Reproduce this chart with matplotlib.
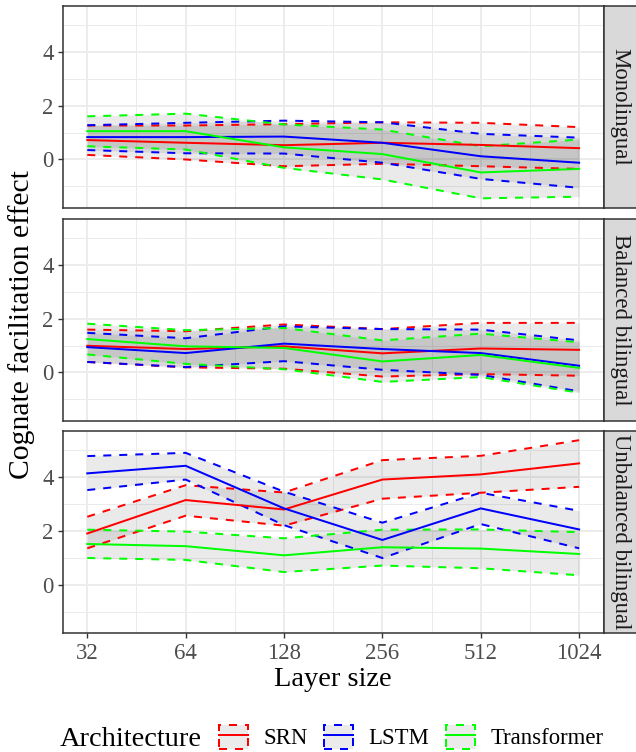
import numpy as np
import matplotlib

matplotlib.use("Agg")
import matplotlib.pyplot as plt
from matplotlib.patches import Rectangle
from matplotlib.lines import Line2D
from matplotlib.ticker import NullFormatter

# Data
layer_sizes = [32, 64, 128, 256, 512, 1024]
architectures = ["SRN", "LSTM", "Transformer"]
conditions = ["Monolingual", "Balanced bilingual", "Unbalanced bilingual"]
arch_colors = {"SRN": "#FF0000", "LSTM": "#0000FF", "Transformer": "#00FF00"}

# Monolingual
mono_mean = {
    "SRN": [0.72, 0.62, 0.53, 0.62, 0.54, 0.42],
    "LSTM": [0.83, 0.83, 0.85, 0.62, 0.12, -0.12],
    "Transformer": [1.05, 1.05, 0.45, 0.20, -0.48, -0.35],
}
mono_lower = {
    "SRN": [0.17, 0.00, -0.25, -0.16, -0.25, -0.35],
    "LSTM": [0.35, 0.23, 0.22, -0.12, -0.72, -1.05],
    "Transformer": [0.49, 0.37, -0.31, -0.74, -1.44, -1.38],
}
mono_upper = {
    "SRN": [1.26, 1.26, 1.31, 1.38, 1.36, 1.20],
    "LSTM": [1.27, 1.36, 1.44, 1.38, 0.95, 0.81],
    "Transformer": [1.60, 1.70, 1.30, 1.11, 0.49, 0.74],
}

# Balanced bilingual
bal_mean = {
    "SRN": [0.99, 0.87, 0.97, 0.71, 0.89, 0.84],
    "LSTM": [0.94, 0.72, 1.07, 0.87, 0.72, 0.25],
    "Transformer": [1.24, 0.97, 0.91, 0.41, 0.65, 0.17],
}
bal_lower = {
    "SRN": [0.39, 0.19, 0.14, -0.15, -0.06, -0.12],
    "LSTM": [0.39, 0.20, 0.42, 0.10, -0.09, -0.70],
    "Transformer": [0.67, 0.32, 0.12, -0.35, -0.17, -0.75],
}
bal_upper = {
    "SRN": [1.59, 1.53, 1.78, 1.61, 1.84, 1.84],
    "LSTM": [1.47, 1.27, 1.71, 1.61, 1.59, 1.19],
    "Transformer": [1.81, 1.57, 1.65, 1.19, 1.44, 1.12],
}

# Unbalanced bilingual
unbal_mean = {
    "SRN": [1.91, 3.15, 2.80, 3.91, 4.10, 4.51],
    "LSTM": [4.14, 4.42, 2.84, 1.67, 2.84, 2.06],
    "Transformer": [1.52, 1.44, 1.10, 1.40, 1.35, 1.15],
}
unbal_lower = {
    "SRN": [1.36, 2.57, 2.20, 3.20, 3.42, 3.64],
    "LSTM": [3.52, 3.91, 2.22, 1.00, 2.26, 1.36],
    "Transformer": [1.00, 0.93, 0.48, 0.72, 0.62, 0.36],
}
unbal_upper = {
    "SRN": [2.53, 3.70, 3.43, 4.63, 4.79, 5.37],
    "LSTM": [4.78, 4.90, 3.46, 2.31, 3.42, 2.75],
    "Transformer": [2.05, 1.98, 1.73, 2.05, 2.06, 1.96],
}

panels = [
    (mono_mean, mono_lower, mono_upper),
    (bal_mean, bal_lower, bal_upper),
    (unbal_mean, unbal_lower, unbal_upper),
]

serif = ["Liberation Serif", "DejaVu Serif"]
plt.rcParams["font.family"] = serif

W, H = 636, 752
fig = plt.figure(figsize=(W / 100, H / 100), dpi=100)

# y limits with ggplot-like 5% expansion over all facets
all_lo = min(min(v) for p in panels for v in p[1].values())
all_hi = max(max(v) for p in panels for v in p[2].values())
span = all_hi - all_lo
ylim = (all_lo - 0.05 * span, all_hi + 0.05 * span)
log_lo, log_hi = np.log2(layer_sizes[0]), np.log2(layer_sizes[-1])
lspan = log_hi - log_lo
xlim = (2 ** (log_lo - 0.05 * lspan), 2 ** (log_hi + 0.05 * lspan))

left, right = 62.7, 603.7
panel_tops = [5.5, 218.5, 431.0]
panel_h = 202.0
strip_w = 33.0
tick_color = "#333333"
lw = 1.44
dash = (0, (4, 4))

for i, (cond, (mean, lower, upper)) in enumerate(zip(conditions, panels)):
    top = panel_tops[i]
    ax = fig.add_axes([left / W, 1 - (top + panel_h) / H, (right - left) / W, panel_h / H])
    ax.set_xscale("log", base=2)

    for arch in architectures:
        ax.fill_between(layer_sizes, lower[arch], upper[arch],
                        color="#333333", alpha=0.1, linewidth=0, zorder=2)
        ax.plot(layer_sizes, lower[arch], color=arch_colors[arch], lw=lw,
                linestyle=dash, zorder=3)
        ax.plot(layer_sizes, upper[arch], color=arch_colors[arch], lw=lw,
                linestyle=dash, zorder=3)
    for arch in architectures:
        ax.plot(layer_sizes, mean[arch], color=arch_colors[arch], lw=lw, zorder=4)

    ax.set_xlim(*xlim)
    ax.set_ylim(*ylim)
    ax.set_yticks([0, 2, 4])
    ax.set_yticks([-1, 1, 3, 5], minor=True)
    ax.set_xticks(layer_sizes)
    ax.set_xticks([s * np.sqrt(2) for s in layer_sizes[:-1]], minor=True)
    ax.set_xticklabels([str(s) for s in layer_sizes])
    ax.xaxis.set_minor_formatter(NullFormatter())
    ax.yaxis.set_minor_formatter(NullFormatter())
    ax.grid(which="major", color="#EBEBEB", linewidth=1.3, zorder=0)
    ax.grid(which="minor", color="#EBEBEB", linewidth=0.7, zorder=0)
    ax.set_axisbelow(True)
    ax.tick_params(which="minor", length=0)
    ax.tick_params(axis="y", which="major", length=3.6, width=1.0, color=tick_color,
                   labelsize=16.35, labelcolor="#4D4D4D", pad=2.9)
    if i < 2:
        ax.tick_params(axis="x", which="major", length=0, labelbottom=False)
    else:
        ax.tick_params(axis="x", which="major", length=3.6, width=1.0, color=tick_color,
                       labelsize=16.35, labelcolor="#4D4D4D", pad=3.5)
        ax.set_xlabel("Layer size", fontsize=20.45, color="black", labelpad=2)
    for sp in ax.spines.values():
        sp.set_color(tick_color)
        sp.set_linewidth(1.1)

    # facet strip on the right
    sax = fig.add_axes([right / W, 1 - (top + panel_h) / H, strip_w / W, panel_h / H])
    sax.set_facecolor("#D9D9D9")
    sax.set_xticks([])
    sax.set_yticks([])
    for sp in sax.spines.values():
        sp.set_color(tick_color)
        sp.set_linewidth(1.1)
    sax.text(0.5, 0.5, cond, rotation=-90, ha="center", va="center",
             fontsize=16.35, color="#1A1A1A", transform=sax.transAxes)

fig.text(22 / W, 1 - 325 / H, "Cognate facilitation effect", rotation=90,
         ha="center", va="center", fontsize=21.3, color="black")

# legend
fig.text(60 / W, 1 - 746 / H, "Architecture", ha="left", va="baseline",
         fontsize=20.45, color="black")
handles = []
for arch in architectures:
    box = Rectangle((0, 0), 1, 1, facecolor="#EBEBEB", edgecolor=arch_colors[arch],
                    linewidth=lw, linestyle=dash)
    line = Line2D([], [], color=arch_colors[arch], lw=lw)
    handles.append((box, line))
fig.legend(handles, architectures, ncol=3, loc="center left",
           bbox_to_anchor=(219 / W, 1 - 737 / H), frameon=False,
           borderpad=0, borderaxespad=0, handlelength=1.28, handleheight=1.28,
           handletextpad=0.66, columnspacing=0.75, fontsize=16.35)

fig.savefig("out.png", dpi=100)
